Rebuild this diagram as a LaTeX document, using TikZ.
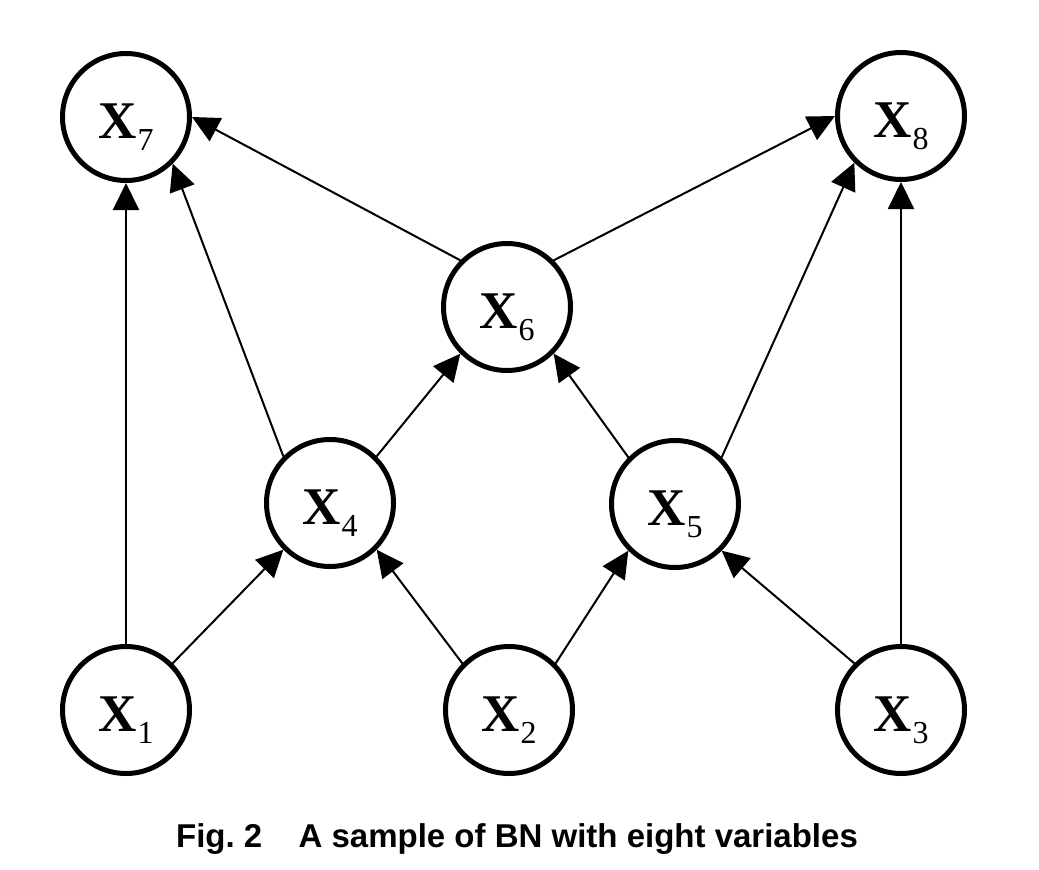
\documentclass[tikz,border=0pt]{standalone}
\usepackage{fontspec}
\setmainfont{Liberation Serif}
\newfontfamily\figcapfont{Liberation Sans}
\usetikzlibrary{arrows.meta}

\newcommand{\bnlabel}[1]{\textbf{X}\kern1pt\raisebox{-12pt}{\fontsize{32}{32}\selectfont #1}}

\begin{document}
\begin{tikzpicture}[x=1pt, y=-1pt,
  bnnode/.style={circle, draw=black, line width=5pt, minimum size=127pt, inner sep=0pt,
                 text height=43pt, text depth=0pt, font=\fontsize{53}{53}\selectfont},
  dep/.style={line width=2pt, -{Triangle[length=27pt, width=26pt]}}]

\useasboundingbox (0,0) rectangle (1039,870);

% Variables
\node[bnnode] (x7) at (126,117) {\bnlabel{7}};
\node[bnnode] (x8) at (901,116) {\bnlabel{8}};
\node[bnnode] (x6) at (507,307) {\bnlabel{6}};
\node[bnnode] (x4) at (330,503) {\bnlabel{4}};
\node[bnnode] (x5) at (675,504) {\bnlabel{5}};
\node[bnnode] (x1) at (126,710) {\bnlabel{1}};
\node[bnnode] (x2) at (509,710) {\bnlabel{2}};
\node[bnnode] (x3) at (901,710) {\bnlabel{3}};

% Arcs
\draw[dep] (x1.north) -- (x7.south);
\draw[dep] (x1.north east) -- (x4.south west);
\draw[dep] (x2.north west) -- (x4.south east);
\draw[dep] (x2.north east) -- (x5.south west);
\draw[dep] (x3.north west) -- (x5.south east);
\draw[dep] (x3.north) -- (x8.south);
\draw[dep] (x4.north west) -- (x7.south east);
\draw[dep] (x4.north east) -- (x6.south west);
\draw[dep] (x5.north west) -- (x6.south east);
\draw[dep] (x5.north east) -- (x8.south west);
\draw[dep] (x6.north west) -- (x7.east);
\draw[dep] (x6.north east) -- (x8.west);

% Caption
\node[font=\figcapfont\bfseries\fontsize{33}{33}\selectfont, anchor=base] (cap) at (517,847)
  {Fig.~2\hspace{1.1em}A sample of BN with eight variables};

\end{tikzpicture}
\end{document}
